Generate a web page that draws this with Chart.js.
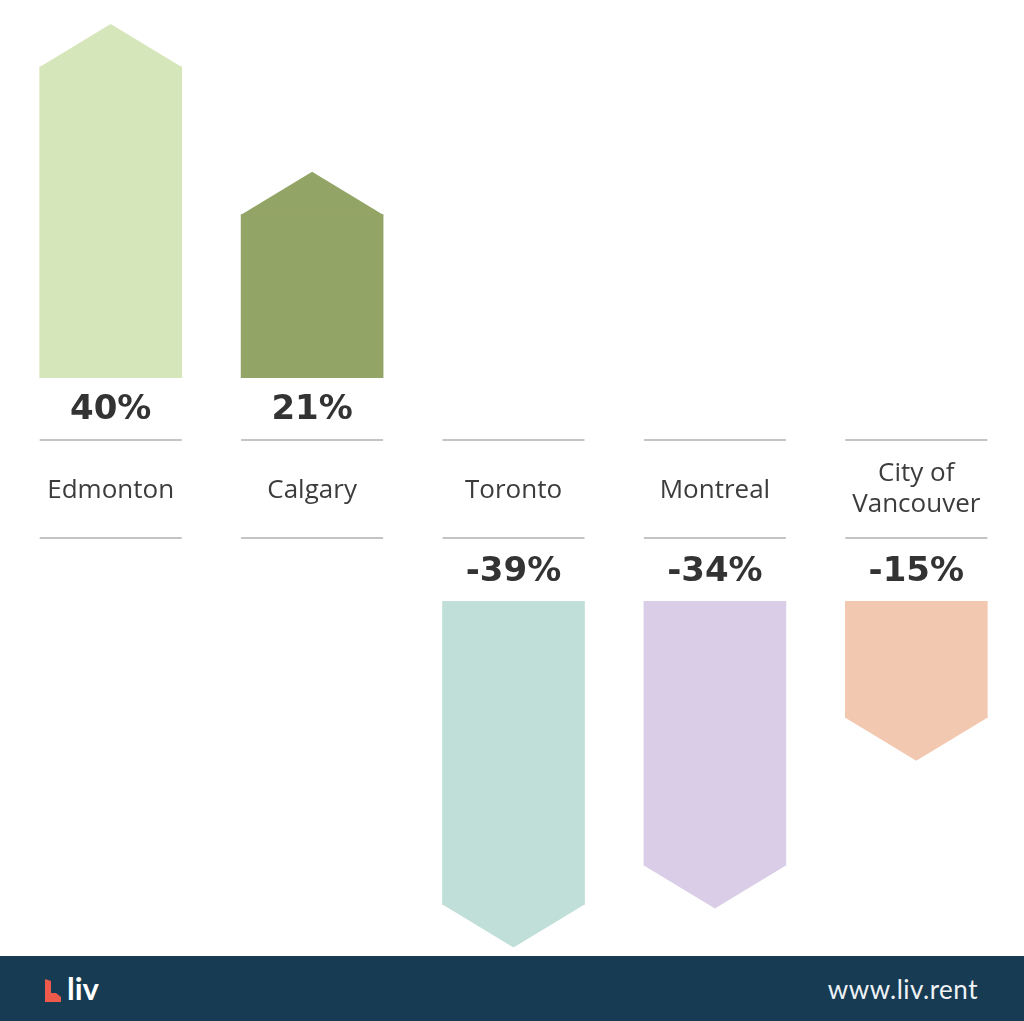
<!DOCTYPE html>
<html>
<head>
<meta charset="utf-8">
<script src="https://cdn.jsdelivr.net/npm/chart.js@4/dist/chart.umd.min.js"></script>
<style>
  html, body { margin: 0; padding: 0; background: #fff; }
  body { width: 1024px; height: 1021px; position: relative; overflow: hidden; }
  #topWrap { position: absolute; left: 0; top: 0; width: 1024px; height: 601px; }
  #botWrap { position: absolute; left: 0; top: 601px; width: 1024px; height: 354px; }
  #footer { position: absolute; left: 0; top: 956px; width: 1024px; height: 65px; background: #163b53; }
  #logoText { position: absolute; left: 67px; top: 969px; color: #fff; font: bold 31px "Lato", "DejaVu Sans", sans-serif; }
  #site { position: absolute; right: 46px; top: 973px; color: #eef2f5; font: 26px "Lato", "Open Sans", sans-serif; letter-spacing: 0.5px; }
</style>
</head>
<body>
<div id="topWrap"><canvas id="top"></canvas></div>
<div id="botWrap"><canvas id="bot"></canvas></div>
<div id="footer"></div>
<svg style="position:absolute;left:45px;top:979px" width="17" height="24" viewBox="0 0 17 24">
  <path d="M0 0 L6 2 L6 14 L11 14 L16 18 L16 23 L0 23 Z" fill="#ef5a4b"/>
</svg>
<div id="logoText">liv</div>
<div id="site">www.liv.rent</div>
<script>
// data
var cities = ['Edmonton', 'Calgary', 'Toronto', 'Montreal', ['City of', 'Vancouver']];
var change = [40, 21, -39, -34, -15];
var colors = ['#d5e6ba', '#93a566', '#c0dfd8', '#dacde7', '#f2c8b0'];

var gains = change.map(v => v > 0 ? v : null);
var losses = change.map(v => v < 0 ? v : null);

var TIP = 43;

// arrow tip on the end of each bar
var arrowTips = {
  id: 'arrowTips',
  afterDatasetsDraw(chart) {
    var ctx = chart.ctx;
    var ds = chart.data.datasets[0];
    chart.getDatasetMeta(0).data.forEach((bar, i) => {
      var v = ds.data[i];
      if (v === null) return;
      var dir = v > 0 ? -1 : 1;
      var half = bar.width / 2;
      var y0 = bar.y - dir * 1; // overlap the bar a little, no seam
      ctx.save();
      ctx.fillStyle = ds.backgroundColor[i];
      ctx.beginPath();
      ctx.moveTo(bar.x - half, y0);
      ctx.lineTo(bar.x - half, bar.y);
      ctx.lineTo(bar.x, bar.y + dir * TIP);
      ctx.lineTo(bar.x + half, bar.y);
      ctx.lineTo(bar.x + half, y0);
      ctx.closePath();
      ctx.fill();
      ctx.restore();
    });
  }
};

// labels band between the two halves
var labelBand = {
  id: 'labelBand',
  afterDraw(chart) {
    var ctx = chart.ctx;
    var x = chart.scales.x;
    var w = chart.getDatasetMeta(0).data[0].width;
    ctx.save();
    ctx.textAlign = 'center';
    ctx.textBaseline = 'middle';
    change.forEach((v, i) => {
      var cx = x.getPixelForValue(i);
      ctx.strokeStyle = '#c4c4c4';
      ctx.lineWidth = 2;
      [440, 538].forEach(y => {
        ctx.beginPath();
        ctx.moveTo(cx - w / 2, y);
        ctx.lineTo(cx + w / 2, y);
        ctx.stroke();
      });
      ctx.fillStyle = '#333';
      ctx.font = 'bold 34px "DejaVu Sans", sans-serif';
      ctx.fillText(v + '%', cx, v > 0 ? 410 : 572);
      ctx.fillStyle = '#3c3c3c';
      ctx.font = '26px "Open Sans", sans-serif';
      var lab = cities[i];
      if (Array.isArray(lab)) {
        ctx.fillText(lab[0], cx, 474);
        ctx.fillText(lab[1], cx, 505);
      } else {
        ctx.fillText(lab, cx, 491);
      }
    });
    ctx.restore();
  }
};

function opts(min, max, bottomPad) {
  return {
    responsive: true,
    maintainAspectRatio: false,
    animation: false,
    layout: { padding: { left: 10, right: 7, top: 0, bottom: bottomPad } },
    plugins: { legend: { display: false }, tooltip: { enabled: false } },
    scales: {
      x: { display: false },
      y: { display: false, min: min, max: max }
    }
  };
}

new Chart(document.getElementById('top'), {
  type: 'bar',
  data: {
    labels: cities,
    datasets: [{
      data: gains,
      backgroundColor: colors,
      barThickness: 142,
      borderWidth: 0
    }]
  },
  options: opts(0, 48.6, 223),
  plugins: [arrowTips, labelBand]
});

new Chart(document.getElementById('bot'), {
  type: 'bar',
  data: {
    labels: cities,
    datasets: [{
      data: losses,
      backgroundColor: colors,
      barThickness: 142,
      borderWidth: 0
    }]
  },
  options: opts(-45.5, 0, 0),
  plugins: [arrowTips]
});
</script>
</body>
</html>
